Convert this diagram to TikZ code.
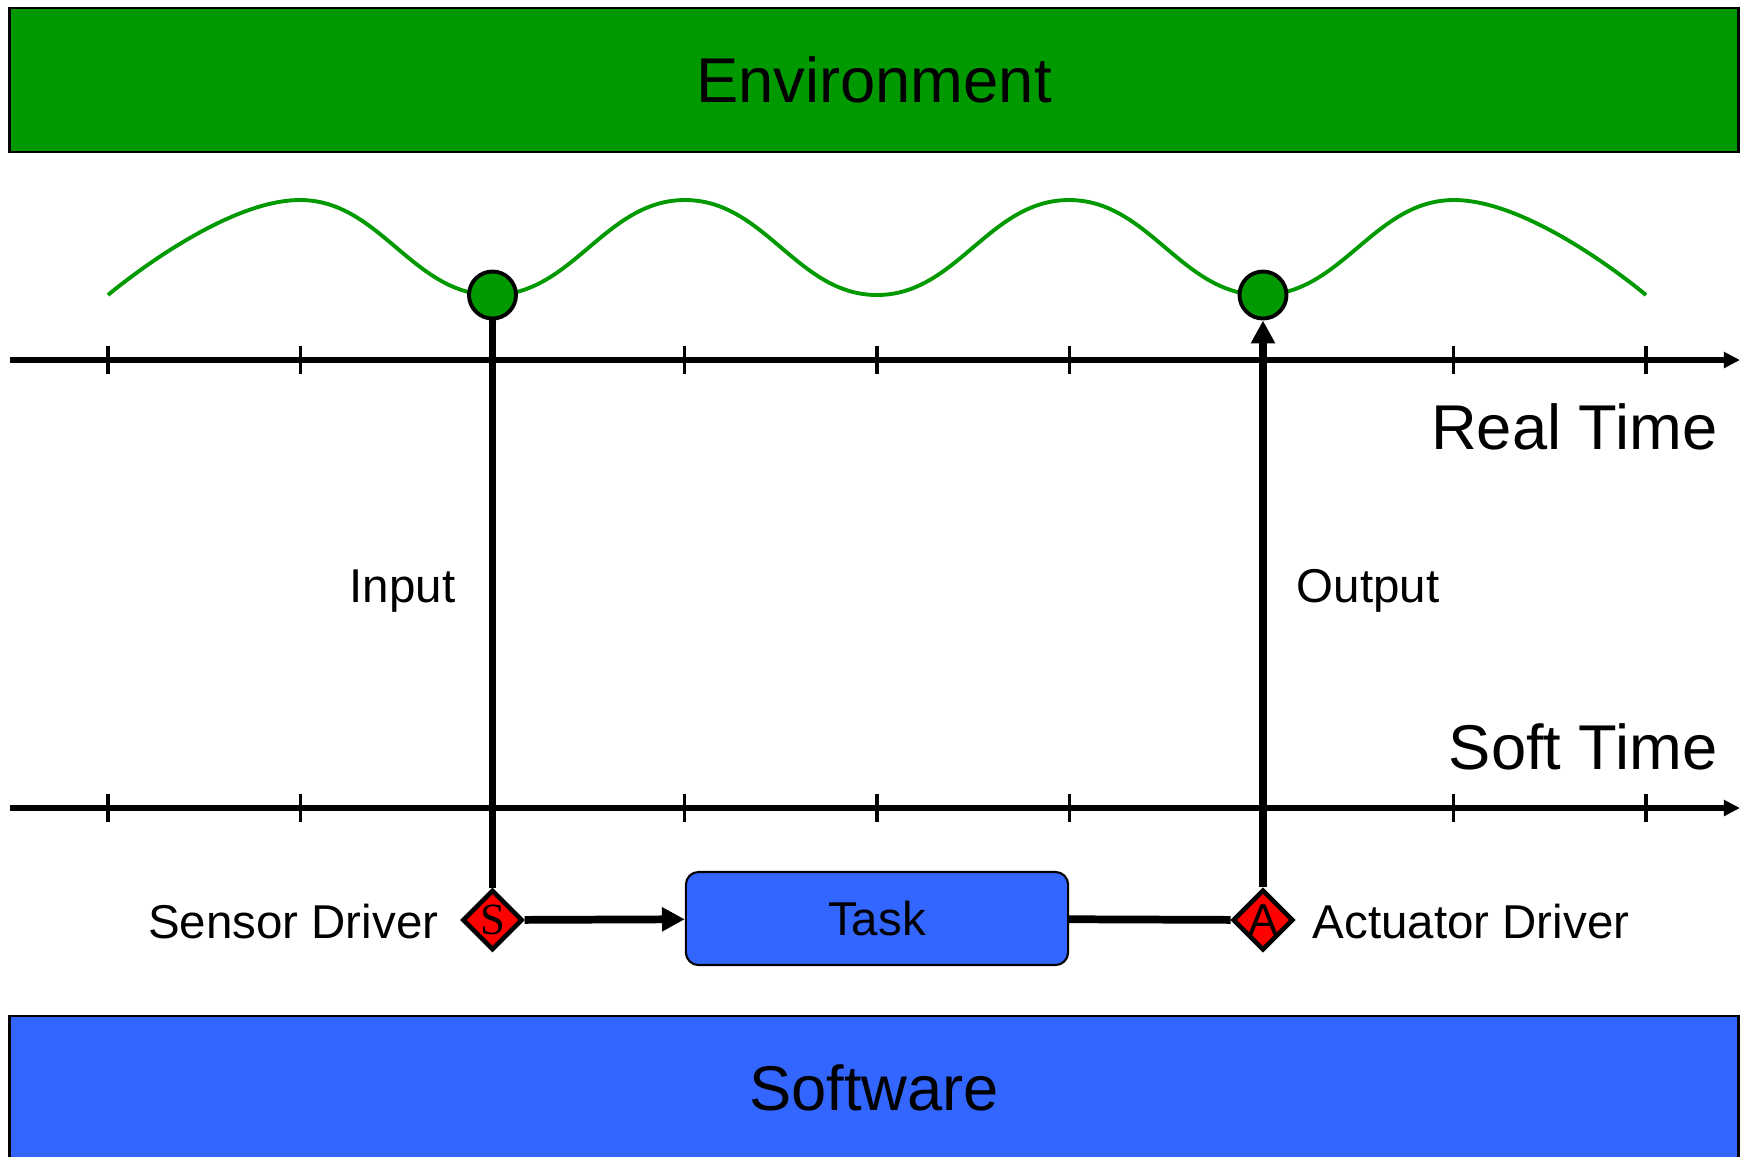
\documentclass[tikz,border=0pt]{standalone}
\usepackage{fontspec}
\setmainfont{Liberation Sans}
\newfontfamily\serifS{Liberation Serif}
\usetikzlibrary{shapes.geometric,arrows.meta}
\definecolor{envgreen}{HTML}{009900}
\definecolor{swblue}{HTML}{3366FF}
\definecolor{drvred}{HTML}{FF0000}
\tikzset{
  band/.style={draw=black, line width=0.7pt, rectangle, inner sep=0pt,
    minimum width=17.28cm, font=\fontsize{18}{22}\selectfont},
  axis/.style={line width=1.5pt, -{Triangle[length=4.6pt,width=4.4pt]}},
  tickmark/.style={line width=0.9pt},
  wave/.style={envgreen, line width=1.1pt},
  sample/.style={circle, draw=black, fill=envgreen, line width=1.1pt,
    minimum size=0.47cm, inner sep=0pt},
  drv/.style={diamond, draw=black, fill=drvred, line width=1.3pt,
    minimum size=0.6cm, inner sep=0pt, font=\fontsize{12.7}{14}\selectfont},
  taskbox/.style={rectangle, rounded corners=3.6pt, draw=black, fill=swblue,
    line width=0.6pt, minimum width=3.82cm, minimum height=0.93cm, inner sep=0pt,
    font=\fontsize{13.5}{16}\selectfont},
  conn/.style={line width=2.2pt},
  connarrow/.style={conn, -{Triangle[length=6.5pt,width=6.5pt]}},
  lbl/.style={inner sep=0pt, font=\fontsize{13.5}{16}\selectfont},
  biglbl/.style={inner sep=0pt, font=\fontsize{18}{22}\selectfont}
}
\begin{document}
\begin{tikzpicture}[x=0.01cm,y=-0.01cm]
\useasboundingbox (0,0) rectangle (1747,1156);
\clip (0,0) rectangle (1747,1156);

% bands
\node[band, fill=envgreen, minimum height=1.44cm] (env) at (874,80) {Environment};
\node[band, fill=swblue, minimum height=1.6cm] (sw) at (874,1096) {\raisebox{0.5ex}{Software}};

% axes
\coordinate (rtstart) at (10,360);
\coordinate (rtend) at (1740,360);
\coordinate (ststart) at (10,808);
\coordinate (stend) at (1740,808);
\draw[axis] (rtstart) -- (rtend);
\draw[axis] (ststart) -- (stend);
\foreach \i in {0,...,8}{
  \draw[tickmark] ({108+192.25*\i},346) -- ({108+192.25*\i},374);
  \draw[tickmark] ({108+192.25*\i},794) -- ({108+192.25*\i},822);
}

% wave
\draw[wave] plot[smooth, tension=0.75] coordinates {
  (108,295) (300,200) (492.5,295) (685,200) (877,295) (1069,200) (1261.5,295) (1454,200) (1646,295)};

% sample points
\node[sample] (in) at (492.5,295) {};
\node[sample] (out) at (1263,295) {};

% drivers and task
\node[drv] (S) at (492.5,920) {\serifS S};
\node[drv] (A) at (1263,920) {A};
\node[taskbox] (task) at (877,918.5) {Task};

% connectors
\draw[conn] (in) -- (S);
\draw[connarrow] (S) -- (task);
\draw[conn] (task) -- (A);
\draw[connarrow] (A) -- (out);

% labels
\node[lbl, anchor=base east] (inlbl) at (456,602) {Input};
\node[lbl, anchor=base west] (outlbl) at (1296,602) {Output};
\node[lbl, anchor=base east] (sdlbl) at (439,938) {Sensor Driver};
\node[lbl, anchor=base west] (adlbl) at (1312,938) {Actuator Driver};
\node[biglbl, anchor=base east] (rtlbl) at (1718,449) {Real Time};
\node[biglbl, anchor=base east] (stlbl) at (1718,769) {Soft Time};
\end{tikzpicture}
\end{document}
